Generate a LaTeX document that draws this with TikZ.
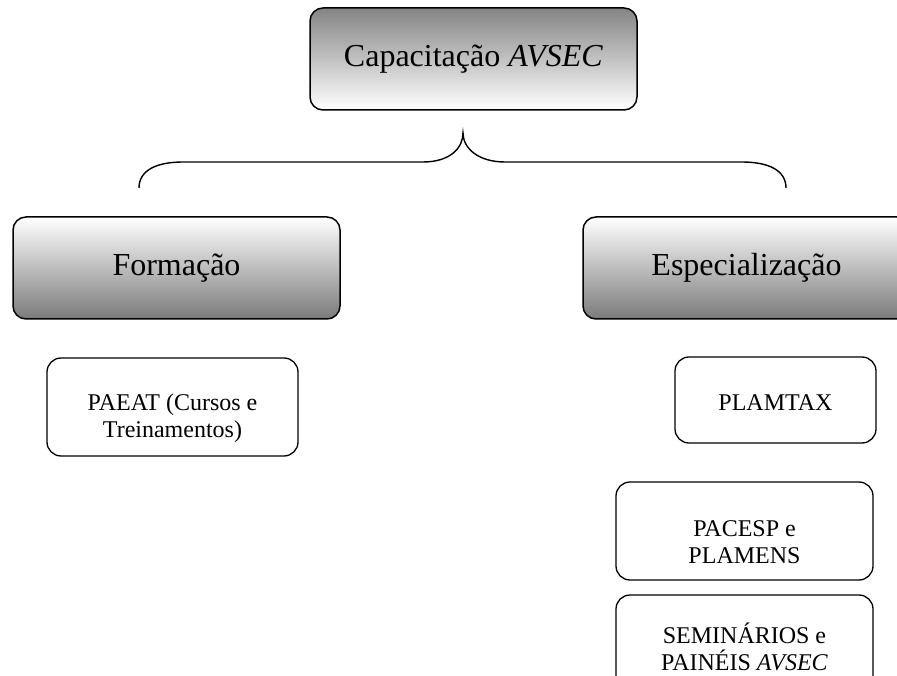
\documentclass[tikz,border=0pt]{standalone}
\usepackage{fontspec}
\setmainfont{Liberation Serif}
\usepackage{tikz}
\usetikzlibrary{calc}

\begin{document}
\begin{tikzpicture}[x=1pt,y=-1pt]
    \tikzstyle{bigbox}=[draw,rounded corners=13pt,line width=1.5pt,minimum width=327pt,minimum height=102pt,font=\fontsize{32}{36}\selectfont]
    \tikzstyle{darktop}=[bigbox,top color=black!48,bottom color=white]
    \tikzstyle{darkbottom}=[bigbox,top color=white,bottom color=black!52]
    \tikzstyle{smallbox}=[draw,rounded corners=14pt,line width=1.3pt,minimum height=98pt]
    \tikzstyle{lbl}=[align=center,inner sep=2pt,font=\fontsize{24}{27}\selectfont]
    \useasboundingbox (0,0) rectangle (897,676);
    \node[darktop] (cap) at (473.5,59) {Capacitação \textit{AVSEC}};
    \node[darkbottom] (form) at (176.5,268) {Formação};
    \node[darkbottom] (espec) at (746.5,268) {Especialização};
    \node[smallbox,minimum width=251pt] (paeat) at (172.5,407) {};
    \node[lbl] (paeat_t) at ([yshift=-11pt]paeat.center) {PAEAT (Cursos e\\Treinamentos)};
    \node[smallbox,minimum width=201pt,minimum height=86pt] (plamtax) at (775.5,400) {};
    \node[lbl] (plamtax_t) at ([yshift=-3pt]plamtax.center) {PLAMTAX};
    \node[smallbox,minimum width=257pt] (pacesp) at (744.5,531) {};
    \node[lbl] (pacesp_t) at ([yshift=-11pt]pacesp.center) {PACESP e\\PLAMENS};
    \node[smallbox,minimum width=257pt] (semin) at (744.5,644) {};
    \node[lbl] (semin_t) at ([yshift=-3pt]semin.center) {SEMINÁRIOS e\\PAINÉIS \textit{AVSEC}};
    % chave
    \coordinate (tip) at (463,133);
    \coordinate (b_l) at (139,188);
    \coordinate (b_r) at (786,188);
    \draw[line width=1.4pt] (b_l) .. controls (139,170) and (157,162) .. (183,162) -- (423,162)
      .. controls (450,162) and (463,148) .. (tip)
      .. controls (463,148) and (478,162) .. (505,162) -- (742,162)
      .. controls (768,162) and (786,170) .. (b_r);
\end{tikzpicture}
\end{document}
